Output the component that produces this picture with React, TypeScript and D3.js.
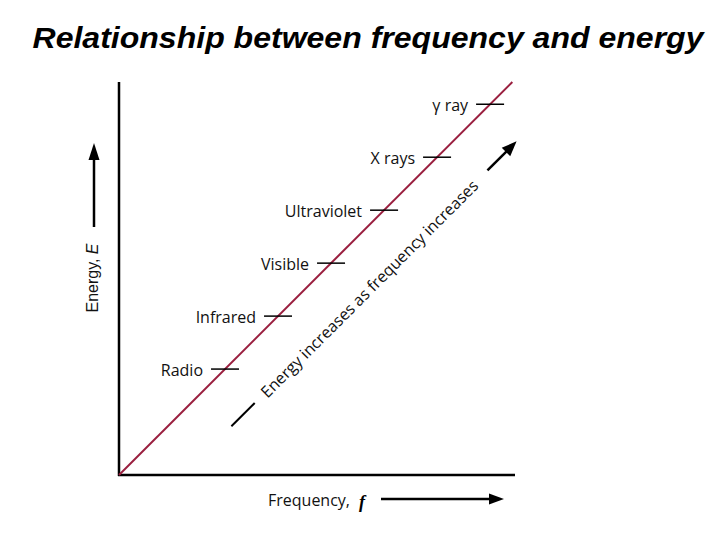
import React from "react";
import * as d3 from "d3";

// Data
const bands = ["Radio", "Infrared", "Visible", "Ultraviolet", "X rays", "γ ray"];
const frequency = [2, 3, 4, 5, 6, 7];
const energy = [2, 3, 4, 5, 6, 7];
const lineFrequency = [0, 7.42];
const lineEnergy = [0, 7.42];
const title = "Relationship between frequency and energy";
const xLabel = "Frequency,";
const xSymbol = "f";
const yLabel = "Energy,";
const ySymbol = "E";
const annotation = "Energy increases as frequency increases";
// annotation runs along E = f - offset
const annotOffset = 1.2;
const annotDash = [2.12, 2.56];
const annotTextAt = 4.72;
const annotArrow = [6.95, 7.5];

const W = 720;
const H = 540;
const x = d3.scaleLinear().domain([0, 7.47]).range([119, 515]);
const y = d3.scaleLinear().domain([0, 7.42]).range([475, 82]);

const labelFont = "'Open Sans', 'DejaVu Sans', sans-serif";

function arrowHead(x1: number, y1: number, x2: number, y2: number, len: number, half: number) {
  const a = Math.atan2(y2 - y1, x2 - x1);
  const bx = x2 - len * Math.cos(a);
  const by = y2 - len * Math.sin(a);
  const px = -Math.sin(a) * half;
  const py = Math.cos(a) * half;
  return `M${x2},${y2}L${bx + px},${by + py}L${bx - px},${by - py}Z`;
}

export default function App() {
  const line = d3
    .line<number>()
    .x((_, i) => x(lineFrequency[i]))
    .y((_, i) => y(lineEnergy[i]));

  const ax = (f: number) => x(f);
  const ay = (f: number) => y(f - annotOffset);

  const tx = ax(annotTextAt);
  const ty = ay(annotTextAt);

  const arX1 = ax(annotArrow[0]);
  const arY1 = ay(annotArrow[0]);
  const arX2 = ax(annotArrow[1]);
  const arY2 = ay(annotArrow[1]);

  const x0 = x(0);
  const y0 = y(0);
  const xMax = x.range()[1];
  const yMax = y.range()[1];

  // axis label positions
  const xLabelY = y0 + 31;
  const xArrowY = y0 + 24;
  const yLabelX = x0 - 26;

  return (
    <svg width={W} height={H} style={{ position: "absolute", left: 0, top: 0, background: "#fff" }}>
      <rect x={0} y={0} width={W} height={H} fill="#fff" />
      <text
        x={368}
        y={48}
        textAnchor="middle"
        fontFamily="'Liberation Sans', Arial, sans-serif"
        fontWeight="bold"
        fontStyle="italic"
        fontSize={30}
        textLength={671}
        lengthAdjust="spacingAndGlyphs"
        fill="#000"
      >
        {title}
      </text>

      {/* axes */}
      <line x1={x0} y1={yMax} x2={x0} y2={y0 + 1} stroke="#000" strokeWidth={2.5} />
      <line x1={x0 - 1} y1={y0} x2={xMax} y2={y0} stroke="#000" strokeWidth={2.5} />

      {/* main relationship line */}
      <path d={line(lineFrequency) || ""} fill="none" stroke="#9a1f3f" strokeWidth={2} />

      {/* band ticks and labels */}
      {bands.map((b, i) => {
        const cx = x(frequency[i]);
        const cy = y(energy[i]);
        return (
          <g key={b}>
            <line x1={cx - 14} y1={cy} x2={cx + 14} y2={cy} stroke="#000" strokeWidth={1.5} />
            <text
              x={cx - 22}
              y={cy + 7}
              textAnchor="end"
              fontFamily={labelFont}
              fontSize={16}
              fill="#111"
            >
              {b}
            </text>
          </g>
        );
      })}

      {/* annotation */}
      <line
        x1={ax(annotDash[0])}
        y1={ay(annotDash[0])}
        x2={ax(annotDash[1])}
        y2={ay(annotDash[1])}
        stroke="#000"
        strokeWidth={2}
      />
      <text
        x={tx}
        y={ty}
        transform={`rotate(-45 ${tx} ${ty})`}
        textAnchor="middle"
        dominantBaseline="central"
        fontFamily={labelFont}
        fontSize={16}
        fill="#111"
      >
        {annotation}
      </text>
      <line x1={arX1} y1={arY1} x2={arX2 - 8} y2={arY2 + 8} stroke="#000" strokeWidth={2.5} />
      <path d={arrowHead(arX1, arY1, arX2, arY2, 15, 6)} fill="#000" />

      {/* x label */}
      <text x={268} y={xLabelY} fontFamily={labelFont} fontSize={16} fill="#111">
        {xLabel}
      </text>
      <text
        x={359}
        y={xLabelY + 2}
        fontFamily="'Liberation Serif', 'DejaVu Serif', serif"
        fontStyle="italic"
        fontWeight="bold"
        fontSize={18}
        fill="#000"
      >
        {xSymbol}
      </text>
      <line x1={381} y1={xArrowY} x2={495} y2={xArrowY} stroke="#000" strokeWidth={2.5} />
      <path d={arrowHead(381, xArrowY, 504, xArrowY, 15, 5.5)} fill="#000" />

      {/* y label */}
      <text
        transform={`translate(${yLabelX + 5},${278}) rotate(-90)`}
        textAnchor="middle"
        fontFamily="'Liberation Sans', Arial, sans-serif"
        fontSize={16}
        fill="#111"
      >
        {yLabel}{" "}
        <tspan fontStyle="italic">{ySymbol}</tspan>
      </text>
      <line x1={yLabelX + 1} y1={227} x2={yLabelX + 1} y2={155} stroke="#000" strokeWidth={2.5} />
      <path d={arrowHead(yLabelX + 1, 227, yLabelX + 1, 143, 17, 5.5)} fill="#000" />
    </svg>
  );
}
